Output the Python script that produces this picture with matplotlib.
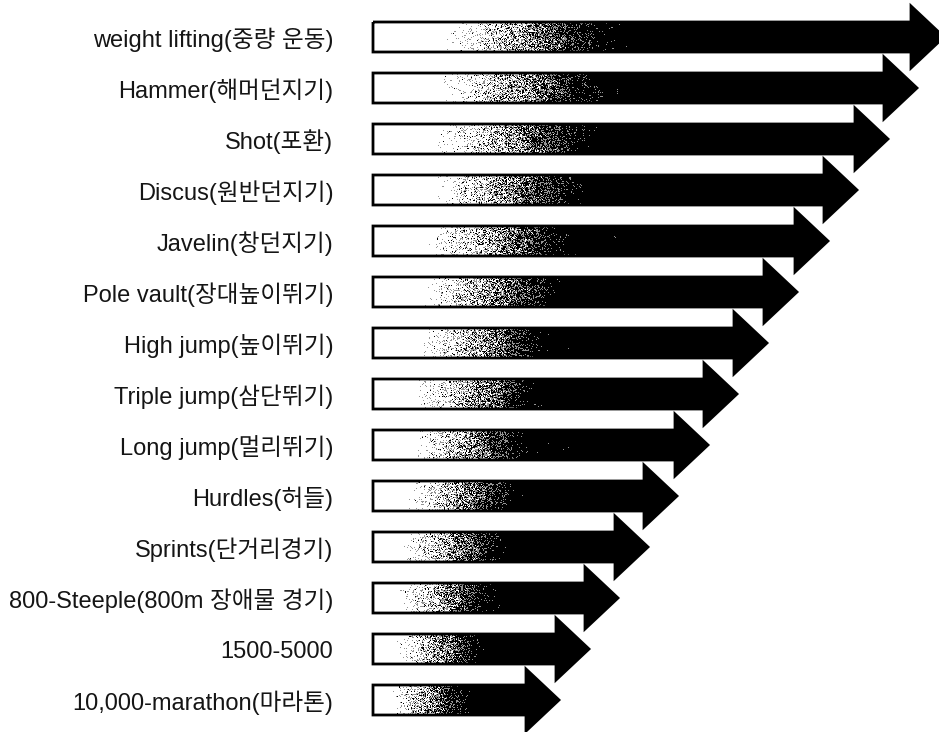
import numpy as np
import matplotlib
matplotlib.use("Agg")
import matplotlib.pyplot as plt
from matplotlib.patches import Polygon

plt.rcParams['font.family'] = ['Liberation Sans', 'Noto Sans CJK KR', 'DejaVu Sans']

# ---- data ----
categories = [
    "weight lifting(중량 운동)",
    "Hammer(해머던지기)",
    "Shot(포환)",
    "Discus(원반던지기)",
    "Javelin(창던지기)",
    "Pole vault(장대높이뛰기)",
    "High jump(높이뛰기)",
    "Triple jump(삼단뛰기)",
    "Long jump(멀리뛰기)",
    "Hurdles(허들)",
    "Sprints(단거리경기)",
    "800-Steeple(800m 장애물 경기)",
    "1500-5000",
    "10,000-marathon(마라톤)",
]
lengths = [571, 544, 515, 484, 455, 424, 394, 364, 335, 304, 275, 245, 216, 186]

# ---- style / geometry (pixel-like data units on x, row units on y) ----
W, H, DPI = 939, 732, 100
AX_LEFT_PX = 368
X0 = 5            # bar start in data units
ROW_PX = 51.0
TOP_PX = 37.0
BAR_HALF = 15.0 / ROW_PX
HEAD_HALF = 31.0 / ROW_PX
HEAD_LEN = 33.0

fig = plt.figure(figsize=(W / DPI, H / DPI), dpi=DPI)
ax = fig.add_axes([AX_LEFT_PX / W, 0, 1 - AX_LEFT_PX / W, 1])
n = len(categories)
ax.set_xlim(0, W - AX_LEFT_PX)
ax.set_ylim((n - 1) + (H - TOP_PX - (n - 1) * ROW_PX) / ROW_PX, -TOP_PX / ROW_PX)

rng = np.random.default_rng(7)


def smooth(a, k):
    ker = np.ones(k) / k
    a = np.apply_along_axis(lambda r: np.convolve(r, ker, mode='same'), 1, a)
    a = np.apply_along_axis(lambda c: np.convolve(c, ker, mode='same'), 0, a)
    return a


def norm(a):
    return (a - a.min()) / (a.max() - a.min() + 1e-9)


def texture(L, hpx):
    w = int(round(L))
    px = np.arange(w, dtype=float)
    w0 = max(0.14 * L - 8, 4)
    b = 0.45 * L + 40
    t = np.clip((px - w0) / (b - w0), 0, 1)
    d = t * t * (3 - 2 * t)
    fine = rng.random((hpx, w))
    blob = norm(smooth(rng.random((hpx, w)), 12))
    mid = norm(smooth(rng.random((hpx, w)), 3))
    g = d[None, :] + 0.6 * (blob - 0.5) * np.sin(np.pi * np.clip(t, 0, 1))[None, :] \
        + 0.2 * (mid - 0.5) * (d[None, :] > 0)
    g = np.clip(g, 0, 1)
    # dither into black / gray dots on white
    r = fine
    img = np.ones((hpx, w))
    img = np.where(r < g * 1.3, 0.58, img)
    img = np.where(r < g ** 1.7 * 1.05, 0.0, img)
    img[:, px > b + 6] = 0.0
    return img


for i, (cat, L) in enumerate(zip(categories, lengths)):
    yc = i
    xb = X0 + L - HEAD_LEN
    pts = [(X0, yc - BAR_HALF), (xb, yc - BAR_HALF), (xb, yc - HEAD_HALF),
           (X0 + L, yc), (xb, yc + HEAD_HALF), (xb, yc + BAR_HALF), (X0, yc + BAR_HALF)]
    poly = Polygon(pts, closed=True, facecolor='none', edgecolor='black',
                   linewidth=2.0, joinstyle='miter', zorder=3)
    ax.add_patch(poly)
    clip = Polygon(pts, closed=True, transform=ax.transData)
    img = texture(L, 62)
    im = ax.imshow(img, cmap='gray', vmin=0, vmax=1, interpolation='nearest',
                   extent=(X0, X0 + L, yc + HEAD_HALF, yc - HEAD_HALF),
                   aspect='auto', zorder=2)
    im.set_clip_path(clip)

ax.set_yticks(range(n))
ax.set_yticklabels(categories, fontsize=17, color='#151515')
ax.tick_params(axis='y', length=0, pad=25)
ax.set_xticks([])
for s in ax.spines.values():
    s.set_visible(False)

fig.savefig("out.png", dpi=DPI, facecolor='white')
